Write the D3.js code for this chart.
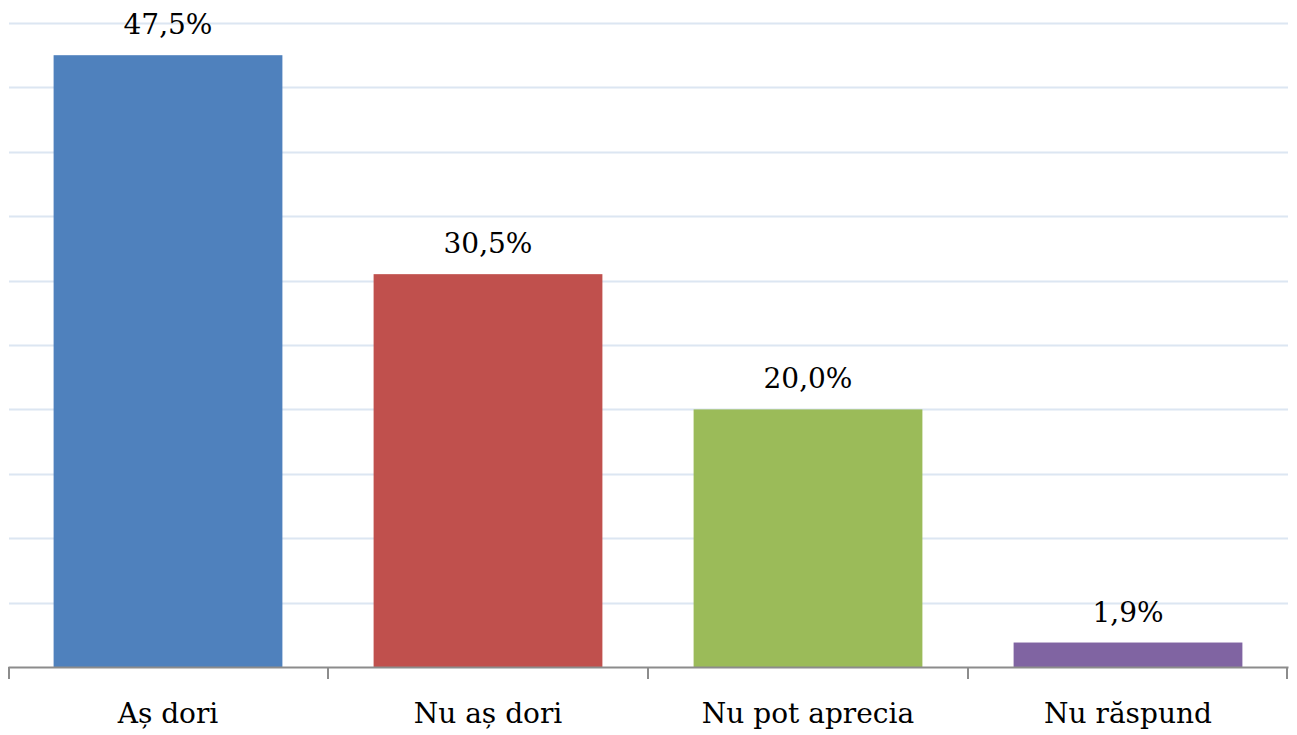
<!DOCTYPE html>
<html>
<head>
<meta charset="utf-8">
<script src="https://cdn.jsdelivr.net/npm/d3@7"></script>
<style>
  body { margin: 0; background: #fff; }
</style>
</head>
<body>
<div class="chart"></div>
<script>
// data
var categories = ["Aș dori", "Nu aș dori", "Nu pot aprecia", "Nu răspund"];
var values = [47.5, 30.5, 20.0, 1.9];
var labels = ["47,5%", "30,5%", "20,0%", "1,9%"];
var colors = ["#4F81BD", "#C0504D", "#9BBB59", "#8064A2"];
var gridTicks = [5, 10, 15, 20, 25, 30, 35, 40, 45, 50];

var serif = "'DejaVu Serif', serif";

var margin = { top: 23, right: 9, bottom: 68, left: 8 };
var width = 1297 - margin.left - margin.right;
var height = 735 - margin.top - margin.bottom;

var svg = d3.select(".chart").append("svg")
    .attr("width", 1297)
    .attr("height", 735);

var g = svg.append("g")
    .attr("transform", "translate(" + margin.left + "," + margin.top + ")");

var x = d3.scaleBand()
    .domain(categories)
    .range([0, width])
    .paddingInner(0.285)
    .paddingOuter(0.1425);

var y = d3.scaleLinear()
    .domain([0, 50])
    .range([height, 0]);

// gridlines
g.selectAll(".grid")
    .data(gridTicks)
    .enter().append("line")
    .attr("class", "grid")
    .attr("x1", 1)
    .attr("x2", width)
    .attr("y1", function (d) { return Math.round(y(d)) + 0.5; })
    .attr("y2", function (d) { return Math.round(y(d)) + 0.5; })
    .attr("stroke", "#dce6f2")
    .attr("stroke-width", 2);

// bars
g.selectAll(".bar")
    .data(values)
    .enter().append("rect")
    .attr("class", "bar")
    .attr("x", function (d, i) { return x(categories[i]); })
    .attr("y", function (d) { return y(d); })
    .attr("width", x.bandwidth())
    .attr("height", function (d) { return height - y(d); })
    .attr("fill", function (d, i) { return colors[i]; });

// value labels
g.selectAll(".val")
    .data(values)
    .enter().append("text")
    .attr("class", "val")
    .attr("x", function (d, i) { return x(categories[i]) + x.bandwidth() / 2; })
    .attr("y", function (d) { return y(d) - 21; })
    .attr("text-anchor", "middle")
    .style("font-family", serif)
    .style("font-size", "28px")
    .attr("fill", "#000")
    .text(function (d, i) { return labels[i]; });

// x axis with ticks between categories
var xAxisCall = d3.axisBottom(x).tickSize(0).tickSizeOuter(0);
var xg = g.append("g")
    .attr("class", "x-axis")
    .attr("transform", "translate(0," + height + ")")
    .call(xAxisCall)
    .attr("font-family", null);
xg.select(".domain")
    .attr("stroke", "#8c8c8c")
    .attr("stroke-width", 2);
xg.selectAll("text")
    .attr("y", 56)
    .attr("dy", 0)
    .style("font-family", serif)
    .style("font-size", "28px")
    .attr("fill", "#000");

var step = x.step();
var bounds = d3.range(categories.length + 1).map(function (i) { return i * step; });
xg.selectAll(".sep")
    .data(bounds)
    .enter().append("line")
    .attr("class", "sep")
    .attr("x1", function (d) { return Math.min(Math.max(d, 1), width - 1); })
    .attr("x2", function (d) { return Math.min(Math.max(d, 1), width - 1); })
    .attr("y1", 0)
    .attr("y2", 12)
    .attr("stroke", "#8c8c8c")
    .attr("stroke-width", 2);
</script>
</body>
</html>
